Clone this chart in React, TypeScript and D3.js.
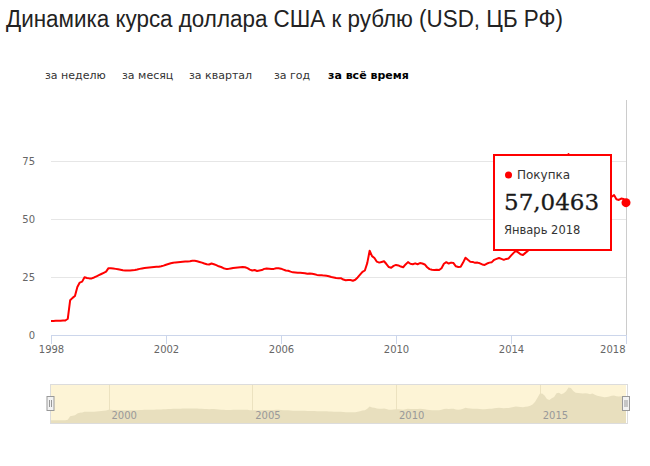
import React from 'react';
import * as d3 from 'd3';

const title = 'Динамика курса доллара США к рублю (USD, ЦБ РФ)';
const tabs = ['за неделю', 'за месяц', 'за квартал', 'за год', 'за всё время'];
const activeTab = 'за всё время';
const seriesName = 'Покупка';
const tooltipValue = '57,0463';
const tooltipDate = 'Январь 2018';

const startYear = 1998;
const endYear = 2018;
const rates1998 = [6.0, 6.05, 6.1, 6.1, 6.15, 6.2, 6.25, 7.0, 15.0, 16.0, 16.8, 20.7];
const rates1999 = [22.6, 23.0, 24.9, 24.6, 24.4, 24.4, 24.8, 25.3, 25.8, 26.3, 26.8, 27.3];
const rates2000 = [28.8, 28.8, 28.7, 28.5, 28.3, 28.1, 27.9, 27.8, 27.8, 27.8, 27.9, 28.0];
const rates2001 = [28.2, 28.5, 28.7, 28.9, 29.0, 29.1, 29.2, 29.3, 29.4, 29.4, 29.6, 29.9];
const rates2002 = [30.3, 30.6, 30.9, 31.1, 31.3, 31.4, 31.5, 31.6, 31.7, 31.7, 31.8, 32.0];
const rates2003 = [32.0, 31.8, 31.5, 31.2, 30.8, 30.5, 30.4, 30.8, 30.5, 30.1, 29.6, 29.3];
const rates2004 = [28.8, 28.5, 28.5, 28.7, 28.9, 29.0, 29.1, 29.2, 29.3, 29.2, 28.8, 28.2];
const rates2005 = [27.8, 28.0, 27.6, 27.8, 28.0, 28.5, 28.7, 28.6, 28.5, 28.5, 28.8, 28.8];
const rates2006 = [28.6, 28.2, 27.8, 27.7, 27.3, 27.0, 26.9, 26.8, 26.8, 26.7, 26.6, 26.4];
const rates2007 = [26.5, 26.4, 26.2, 25.9, 25.8, 25.8, 25.6, 25.5, 25.3, 25.0, 24.8, 24.6];
const rates2008 = [24.5, 24.5, 23.9, 23.6, 23.7, 23.7, 23.4, 23.8, 24.8, 26.0, 27.2, 27.8];
const rates2009 = [31.0, 36.3, 34.0, 33.2, 31.6, 31.2, 31.5, 31.8, 30.6, 29.3, 29.0, 29.8];
const rates2010 = [30.2, 30.0, 29.5, 29.2, 30.4, 31.4, 30.7, 30.5, 30.9, 30.5, 31.0, 30.8];
const rates2011 = [30.4, 29.2, 28.4, 28.1, 28.0, 28.1, 28.0, 28.8, 30.7, 31.4, 30.8, 31.2];
const rates2012 = [31.0, 29.6, 29.3, 29.4, 31.2, 33.3, 32.4, 31.6, 31.5, 31.1, 31.2, 30.9];
const rates2013 = [30.4, 30.2, 30.8, 31.2, 31.4, 32.4, 32.8, 33.2, 32.8, 32.4, 32.8, 33.0];
const rates2014 = [34.2, 35.3, 36.3, 35.6, 34.8, 34.5, 35.4, 36.2, 38.0, 40.5, 46.0, 55.0];
const rates2015 = [64.0, 64.5, 60.5, 52.5, 50.5, 54.5, 57.0, 65.0, 66.5, 63.0, 65.0, 69.5];
const rates2016 = [78.0, 76.5, 70.0, 66.5, 65.5, 65.0, 64.5, 65.0, 64.5, 63.0, 64.5, 62.0];
const rates2017 = [60.0, 58.5, 57.5, 56.4, 57.0, 58.0, 59.6, 60.3, 58.5, 58.2, 58.8, 58.6];
const rates2018 = [57.0463];

const monthlyRates = [
  ...rates1998, ...rates1999, ...rates2000, ...rates2001, ...rates2002, ...rates2003,
  ...rates2004, ...rates2005, ...rates2006, ...rates2007, ...rates2008, ...rates2009,
  ...rates2010, ...rates2011, ...rates2012, ...rates2013, ...rates2014, ...rates2015,
  ...rates2016, ...rates2017, ...rates2018,
];

const yTicks = [0, 25, 50, 75];
const xTicks = [1998, 2002, 2006, 2010, 2014, 2018];
const navTicks = [2000, 2005, 2010, 2015];

export default function App() {
  const data = monthlyRates.map((v, i) => ({ t: startYear + i / 12, v }));

  const left = 51, right = 626, bottom = 335, plotTop = 100;
  const x = d3.scaleLinear().domain([startYear, endYear]).range([left, right]);
  const y = d3.scaleLinear().domain([0, 75]).range([bottom, 161]);

  const navTop = 384, navBottom = 423;
  const ny = d3.scaleLinear().domain([0, 80]).range([navBottom, 386.5]);

  const line = d3.line<{ t: number; v: number }>().x(d => x(d.t)).y(d => y(d.v));
  const area = d3.area<{ t: number; v: number }>().x(d => x(d.t)).y0(navBottom).y1(d => ny(d.v));

  const last = data[data.length - 1];
  const tabX = [45, 122, 189, 274, 328];
  const axisFont = '"DejaVu Sans", Verdana, sans-serif';

  const handle = (cx: number) => (
    <g>
      <rect x={cx - 3.5} y={396.5} width={7} height={14} fill="#f2f2f2" stroke="#999" strokeWidth={1} />
      <line x1={cx - 1} x2={cx - 1} y1={400} y2={407} stroke="#999" />
      <line x1={cx + 1} x2={cx + 1} y1={400} y2={407} stroke="#999" />
    </g>
  );

  return (
    <svg width={650} height={466} style={{ position: 'absolute', left: 0, top: 0, background: '#fff' }}>
      <text x={6} y={27} fontFamily='"Liberation Sans", Arial, sans-serif' fontSize={23} fill="#222"
        textLength={557} lengthAdjust="spacingAndGlyphs">{title}</text>

      {tabs.map((t, i) => (
        <text key={t} x={tabX[i]} y={79} fontFamily={axisFont} fontSize={11}
          fontWeight={t === activeTab ? 'bold' : 'normal'} fill={t === activeTab ? '#000' : '#333'}>{t}</text>
      ))}

      {yTicks.filter(v => v > 0).map(v => (
        <line key={v} x1={left} x2={right} y1={Math.round(y(v)) + 0.5} y2={Math.round(y(v)) + 0.5} stroke="#e6e6e6" />
      ))}
      {yTicks.map(v => (
        <text key={v} x={35} y={y(v) + 4} textAnchor="end" fontFamily={axisFont} fontSize={10} fill="#666">{v}</text>
      ))}

      <line x1={x(endYear) + 0.5} x2={x(endYear) + 0.5} y1={plotTop} y2={bottom} stroke="#cccccc" />

      <line x1={left} x2={right} y1={bottom + 0.5} y2={bottom + 0.5} stroke="#ccd6eb" />
      {xTicks.map((t, i) => {
        const px = Math.round(x(t)) + 0.5;
        const isLast = i === xTicks.length - 1;
        return (
          <g key={t}>
            <line x1={px} x2={px} y1={bottom} y2={bottom + 9} stroke="#ccd6eb" />
            <text x={isLast ? px - 1 : px} y={353} textAnchor={isLast ? 'end' : 'middle'} fontFamily={axisFont} fontSize={10} fill="#666">{t}</text>
          </g>
        );
      })}

      <path d={line(data) || ''} fill="none" stroke="#ff0000" strokeWidth={2} strokeLinejoin="round" />
      <circle cx={x(last.t)} cy={y(last.v)} r={4.5} fill="#ff0000" />

      <g>
        <rect x={494} y={155} width={117} height={95} fill="#ffffff" stroke="#ff0000" strokeWidth={2} />
        <circle cx={508.5} cy={175} r={3.5} fill="#ff0000" />
        <text x={517} y={179} fontFamily={axisFont} fontSize={12} fill="#333">{seriesName}</text>
        <text x={504} y={210} fontFamily='"DejaVu Serif", Georgia, serif' fontSize={23} fill="#1a1a1a"
          stroke="#1a1a1a" strokeWidth={0.3}>{tooltipValue}</text>
        <text x={504} y={234} fontFamily={axisFont} fontSize={11.5} fill="#333">{tooltipDate}</text>
      </g>

      <rect x={left} y={navTop} width={right - left} height={navBottom - navTop} fill="#fdf4d6" />
      {navTicks.map(t => (
        <line key={t} x1={Math.round(x(t)) + 0.5} x2={Math.round(x(t)) + 0.5} y1={navTop} y2={navBottom} stroke="#ece2c0" />
      ))}
      <path d={area(data) || ''} fill="#e8dfbe" stroke="none" />
      {navTicks.map(t => (
        <text key={t} x={x(t) + 3} y={419} fontFamily={axisFont} fontSize={10} fill="#999">{t}</text>
      ))}
      <rect x={left - 0.5} y={navTop + 0.5} width={right - left + 2} height={navBottom - navTop} fill="none" stroke="#dcdcdc" />
      {handle(50.5)}
      {handle(626)}
    </svg>
  );
}
